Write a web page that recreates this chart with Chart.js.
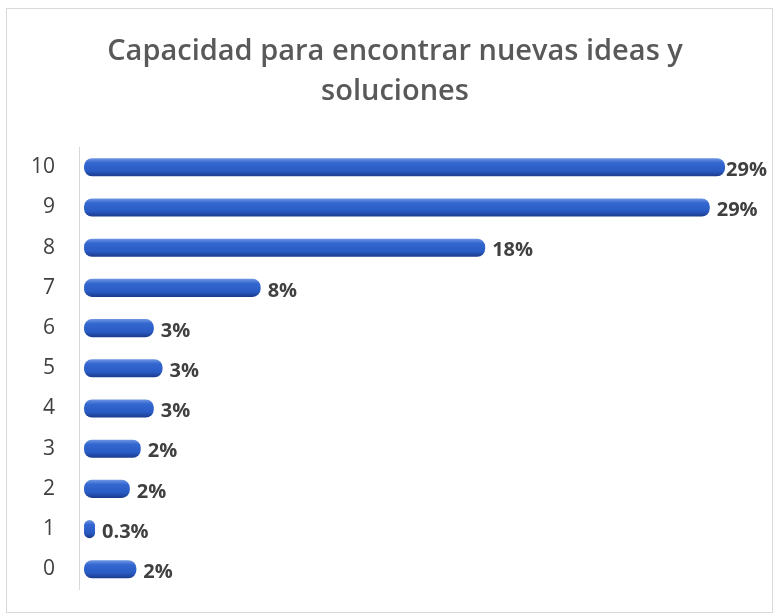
<!DOCTYPE html>
<html>
<head>
<meta charset="utf-8">
<script src="https://cdn.jsdelivr.net/npm/chart.js@4"></script>
<style>
    body { margin: 0; background: #fff; }
    #frame {
        position: absolute;
        left: 6px;
        top: 8px;
        width: 765px;
        height: 603px;
        border: 1px solid #d9d9d9;
        overflow: hidden;
    }
</style>
</head>
<body>
<div id="frame"><canvas id="chart" width="776" height="617"></canvas></div>
<script>
// data (top to bottom)
var categories = ["10", "9", "8", "7", "6", "5", "4", "3", "2", "1", "0"];
var shares = [29.4, 28.7, 18.4, 8.1, 3.2, 3.6, 3.2, 2.6, 2.1, 0.3, 2.4];
var shareLabels = ["29%", "29%", "18%", "8%", "3%", "3%", "3%", "2%", "2%", "0.3%", "2%"];

// cylinder-ish shading for each bar
function barGradient(context) {
    var chart = context.chart;
    var yScale = chart.scales.y;
    if (!yScale || !chart.chartArea) {
        return "#2d5fc9";
    }
    var yc = yScale.getPixelForTick(context.dataIndex);
    var g = chart.ctx.createLinearGradient(0, yc - 9, 0, yc + 9);
    g.addColorStop(0, "#6d95e2");
    g.addColorStop(0.25, "#3467d0");
    g.addColorStop(0.7, "#2a5bc4");
    g.addColorStop(1, "#1a3b8c");
    return g;
}

var valueLabels = {
    id: "valueLabels",
    afterDatasetsDraw: function (chart) {
        var ctx = chart.ctx;
        var meta = chart.getDatasetMeta(0);
        ctx.save();
        ctx.font = "bold 20px 'Open Sans'";
        ctx.fillStyle = "#404040";
        ctx.textBaseline = "middle";
        ctx.textAlign = "left";
        meta.data.forEach(function (bar, i) {
            var off = i === 0 ? 1 : 7;
            ctx.fillText(shareLabels[i], bar.x + off, bar.y + 3);
        });
        ctx.restore();
    }
};

new Chart(document.getElementById("chart").getContext("2d"), {
    type: "bar",
    data: {
        labels: categories,
        datasets: [
            {
                data: shares,
                backgroundColor: barGradient,
                borderWidth: 0,
                borderRadius: 8,
                borderSkipped: false,
                minBarLength: 11,
                barPercentage: 0.45,
                categoryPercentage: 1
            }
        ]
    },
    options: {
        indexAxis: "y",
        responsive: false,
        animation: false,
        layout: {
            padding: { left: 0, right: 0, bottom: 0, top: 0 }
        },
        plugins: {
            legend: { display: false },
            tooltip: { enabled: false },
            title: {
                display: true,
                text: ["Capacidad para encontrar nuevas ideas y", "soluciones"],
                color: "#595959",
                font: { family: "'Open Sans'", size: 29, weight: "600", lineHeight: 1.4 },
                padding: { top: 22, bottom: 35 }
            }
        },
        scales: {
            x: {
                display: false,
                min: -0.23,
                max: 32.06
            },
            y: {
                grid: { display: false, drawTicks: false },
                border: { display: true, color: "#d9d9d9", width: 1 },
                ticks: {
                    color: "#404040",
                    font: { family: "'Open Sans'", size: 21 },
                    padding: 24
                }
            }
        }
    },
    plugins: [valueLabels]
});
</script>
</body>
</html>
